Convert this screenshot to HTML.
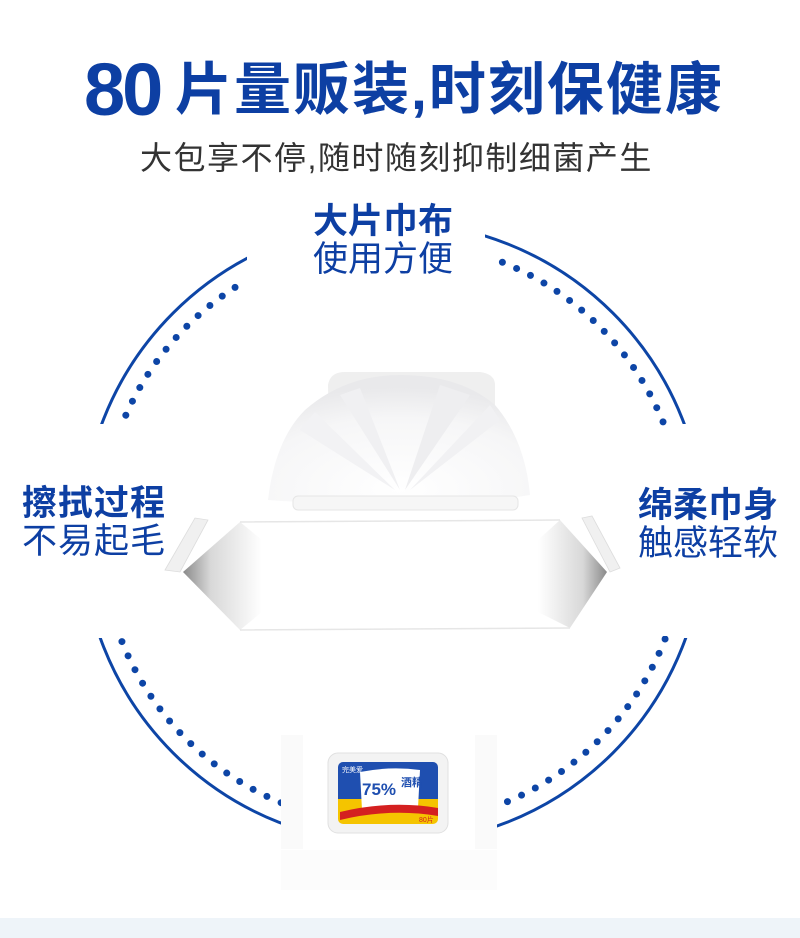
<!DOCTYPE html>
<html><head><meta charset="utf-8"><style>
html,body{margin:0;padding:0;background:#fff}
body{width:800px;height:938px;position:relative;overflow:hidden;font-family:"Liberation Sans","Noto Sans CJK SC",sans-serif}
.t{position:absolute;white-space:nowrap;color:#0d3fa3}
</style></head><body>
<svg width="800" height="938" style="position:absolute;left:0;top:0">
<defs>
<clipPath id="cp">
<rect x="0" y="0" width="247" height="424"/>
<rect x="485" y="0" width="315" height="424"/>
<rect x="0" y="638" width="800" height="300"/>
</clipPath>
<clipPath id="cd">
<rect x="0" y="0" width="242" height="426"/>
<rect x="498" y="0" width="302" height="426"/>
<rect x="0" y="636" width="800" height="300"/>
</clipPath>
<linearGradient id="gl" x1="0" x2="1"><stop offset="0" stop-color="#8a8a8a"/><stop offset="0.35" stop-color="#d8d8d8"/><stop offset="1" stop-color="#fff"/></linearGradient>
<linearGradient id="gr" x1="1" x2="0"><stop offset="0" stop-color="#8a8a8a"/><stop offset="0.35" stop-color="#d8d8d8"/><stop offset="1" stop-color="#fff"/></linearGradient>
<linearGradient id="lbl" x1="0" y1="0" x2="0" y2="1"><stop offset="0" stop-color="#1f4fb0"/><stop offset="0.6" stop-color="#1f4fb0"/><stop offset="0.6" stop-color="#f5c400"/><stop offset="1" stop-color="#f5c400"/></linearGradient>
<radialGradient id="wp" cx="0.5" cy="0.9" r="0.8"><stop offset="0" stop-color="#fff"/><stop offset="0.7" stop-color="#f6f6f7"/><stop offset="1" stop-color="#e9e9eb"/></radialGradient>
</defs>
<circle cx="393" cy="533" r="311" fill="none" stroke="#0d45a6" stroke-width="3" clip-path="url(#cp)"/>
<circle cx="393" cy="533" r="292" fill="none" stroke="#0d45a6" stroke-width="7" stroke-linecap="round" stroke-dasharray="0 15.5" clip-path="url(#cd)"/>
<!-- wipes -->
<path d="M330,500 L328,385 Q330,372 345,372 L480,372 Q495,374 495,385 L495,500 Z" fill="#efefef"/>
<path d="M268,500 Q275,440 305,410 Q345,375 400,375 Q460,375 495,405 Q525,440 530,495 Q470,505 400,500 Q330,505 268,500 Z" fill="url(#wp)"/>
<path d="M340,395 L400,490 L360,388 Z" fill="#f0f0f2"/>
<path d="M440,385 L405,490 L470,395 Z" fill="#eeeef0"/>
<path d="M300,430 L395,490 L315,412 Z" fill="#f2f2f4"/>
<path d="M500,420 L410,490 L490,405 Z" fill="#f1f1f3"/>
<rect x="293" y="496" width="225" height="14" rx="5" fill="#f6f6f6" stroke="#e6e6e6"/>
<!-- pack -->
<polygon points="183,572 240,522 560,520 607,572 570,628 240,630" fill="#fff"/>
<polygon points="183,572 240,522 262,540 262,612 240,630" fill="url(#gl)"/>
<polygon points="607,572 560,520 538,540 538,612 570,628" fill="url(#gr)"/>
<path d="M240,522 L560,520 M240,630 L570,628" stroke="#e6e6e6" stroke-width="1.5"/>
<polygon points="165,570 195,518 208,520 180,572" fill="#f0f0f0" stroke="#ddd" stroke-width="0.8"/>
<polygon points="620,568 592,516 582,518 610,572" fill="#f0f0f0" stroke="#ddd" stroke-width="0.8"/>
<!-- bottom pack -->
<rect x="281" y="735" width="216" height="114" fill="#fafafa"/>
<rect x="303" y="735" width="172" height="114" fill="#fff"/>
<rect x="281" y="850" width="216" height="40" fill="#fbfbfb" opacity="0.7"/>
<rect x="328" y="753" width="120" height="80" rx="10" fill="#f3f3f3" stroke="#e0e0e0"/>
<rect x="338" y="762" width="100" height="62" rx="5" fill="url(#lbl)"/>
<path d="M360,772 Q390,766 420,770 L418,808 Q390,804 362,810 Z" fill="#fff"/>
<path d="M340,812 Q390,800 438,808 L438,816 Q390,808 340,820 Z" fill="#d42020"/>
<text x="362" y="795" font-family="Liberation Sans" font-weight="bold" font-size="17" fill="#1f4fb0">75%</text>
<text x="401" y="786" font-family="Noto Sans CJK SC" font-weight="bold" font-size="11" fill="#1f4fb0">酒精</text>
<text x="419" y="822" font-size="7" fill="#d42020" font-family="Liberation Sans">80片</text>
<text x="342" y="772" font-size="7" fill="#fff" font-family="Noto Sans CJK SC">完美爱</text>
<rect x="0" y="918" width="800" height="20" fill="#eef4f9"/>
</svg>
<div class="t" style="left:84px;top:48px;font-size:74px;font-weight:bold;letter-spacing:-3px;line-height:84px">80</div>
<div class="t" style="left:175px;top:56px;font-size:57px;font-weight:bold;line-height:68px;letter-spacing:2px">片量贩装,时刻保健康</div>
<div class="t" style="left:140px;top:137px;font-size:32px;color:#333;line-height:42px;letter-spacing:1.5px">大包享不停,随时随刻抑制细菌产生</div>
<div class="t" style="left:313px;top:202px;font-size:35px;font-weight:bold;line-height:40px">大片巾布</div>
<div class="t" style="left:313px;top:240px;font-size:35px;line-height:40px">使用方便</div>
<div class="t" style="left:22px;top:484px;font-size:35px;font-weight:bold;line-height:40px;letter-spacing:1px">擦拭过程</div>
<div class="t" style="left:22px;top:522px;font-size:35px;line-height:40px;letter-spacing:1px">不易起毛</div>
<div class="t" style="left:638px;top:486px;font-size:35px;font-weight:bold;line-height:40px">绵柔巾身</div>
<div class="t" style="left:638px;top:524px;font-size:35px;line-height:40px">触感轻软</div>
</body></html>
